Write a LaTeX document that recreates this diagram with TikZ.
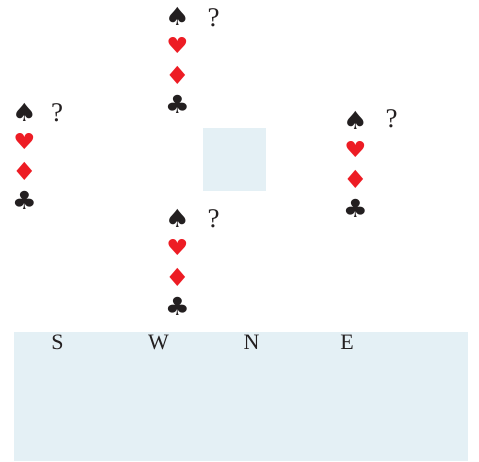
\documentclass[tikz,border=0pt]{standalone}
\usepackage{fontspec}
\setmainfont{Liberation Serif}
\newfontfamily\suitfont[FakeStretch=1.12]{DejaVu Sans}
\usetikzlibrary{chains,positioning}
\definecolor{PaleBlue}{RGB}{228,240,245}
\definecolor{SuitRed}{RGB}{237,28,36}
\definecolor{SuitBlack}{RGB}{35,31,32}

\begin{document}
\begin{tikzpicture}[
     x = 1pt, y = -1pt,
     node distance = 0pt,
MySuit/.style={inner sep=0pt, outer sep=0pt, minimum width=20pt, minimum height=29.5pt,
               font=\suitfont\fontsize{25}{25}\selectfont, on chain},
MyBlack/.style={MySuit, text=SuitBlack},
MyRed/.style={MySuit, text=SuitRed},
MyHeart/.style={MyRed, font=\suitfont\fontsize{22}{22}\selectfont},
MyMark/.style={inner sep=0pt, text=SuitBlack, font=\fontsize{27}{27}\selectfont},
MyName/.style={inner sep=0pt, text=SuitBlack, font=\fontsize{22}{22}\selectfont},
MyPanel/.style={fill=PaleBlue, inner sep=0pt, outer sep=0pt},
  ]
\useasboundingbox (0,0) rectangle (479,462);
\node [MyPanel, minimum width=63pt, minimum height=63pt] (table) at (234.5,159.5) {};
\node [MyPanel, minimum width=454pt, minimum height=129pt] (panel) at (241,396.5) {};
% north hand
\begin{scope}[start chain = going below]
\node [MyBlack] (ns) at (177.5,16) {♠};
\node [MyHeart] (nh) {♥};
\node [MyRed] (nd) {♦};
\node [MyBlack] (nc) {♣};
\end{scope}
\node [MyMark] (nq) at (213.5,18) {?};
% west hand
\begin{scope}[start chain = going below]
\node [MyBlack] (ws) at (24.5,112) {♠};
\node [MyHeart] (wh) {♥};
\node [MyRed] (wd) {♦};
\node [MyBlack] (wc) {♣};
\end{scope}
\node [MyMark] (wq) at (57,113) {?};
% east hand
\begin{scope}[start chain = going below]
\node [MyBlack] (es) at (355.5,120) {♠};
\node [MyHeart] (eh) {♥};
\node [MyRed] (ed) {♦};
\node [MyBlack] (ec) {♣};
\end{scope}
\node [MyMark] (eq) at (391.5,119) {?};
% south hand
\begin{scope}[start chain = going below]
\node [MyBlack] (ss) at (177.5,218) {♠};
\node [MyHeart] (sh) {♥};
\node [MyRed] (sd) {♦};
\node [MyBlack] (sc) {♣};
\end{scope}
\node [MyMark] (sq) at (213.5,219) {?};
% bidding table
\node [MyName] (S) at (57.5,342) {S};
\node [MyName] (W) at (158.5,342) {W};
\node [MyName] (N) at (251.5,342) {N};
\node [MyName] (E) at (347,342) {E};
\end{tikzpicture}
\end{document}
